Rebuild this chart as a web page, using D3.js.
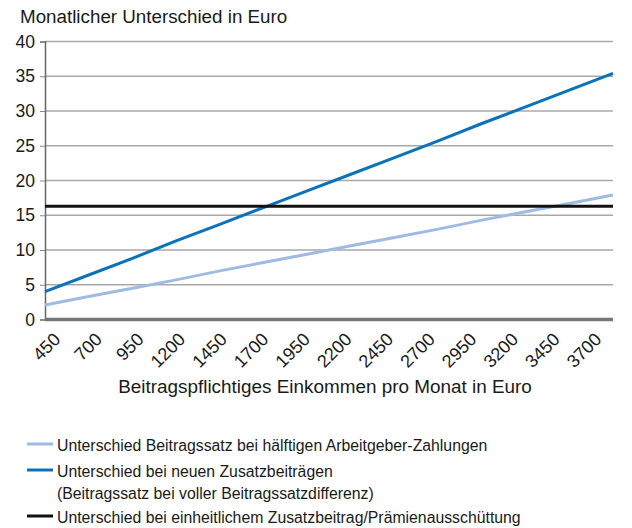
<!DOCTYPE html>
<html>
<head>
<meta charset="utf-8">
<script src="https://cdn.jsdelivr.net/npm/d3@7"></script>
<style>
  html, body { margin: 0; padding: 0; background: #fff; }
  svg { display: block; }
  text { font-family: "Liberation Sans", Arial, Helvetica, sans-serif; fill: #1a1a1a; }
</style>
</head>
<body>
<svg id="chart" width="632" height="528"></svg>
<script>
// Monthly income categories (Euro)
const incomes = [450, 700, 950, 1200, 1450, 1700, 1950, 2200, 2450, 2700, 2950, 3200, 3450, 3700];

// Monthly difference in Euro per series
const halfEmployerDiff = [2.1, 3.3, 4.5, 5.7, 7.0, 8.2, 9.4, 10.6, 11.8, 13.0, 14.3, 15.5, 16.7, 17.9];
const newSupplementDiff = [4.0, 6.4, 8.8, 11.3, 13.7, 16.1, 18.5, 20.9, 23.3, 25.7, 28.2, 30.6, 33.0, 35.4];
const uniformSupplementDiff = [16.3, 16.3, 16.3, 16.3, 16.3, 16.3, 16.3, 16.3, 16.3, 16.3, 16.3, 16.3, 16.3, 16.3];

const yTicks = [0, 5, 10, 15, 20, 25, 30, 35, 40];

const seriesLabels = [
  ["Unterschied Beitragssatz bei hälftigen Arbeitgeber-Zahlungen"],
  ["Unterschied bei neuen Zusatzbeiträgen", "(Beitragssatz bei voller Beitragssatzdifferenz)"],
  ["Unterschied bei einheitlichem Zusatzbeitrag/Prämienausschüttung"]
];

const series = [
  { values: halfEmployerDiff, color: "#9dbbe3", label: seriesLabels[0] },
  { values: newSupplementDiff, color: "#0a72ba", label: seriesLabels[1] },
  { values: uniformSupplementDiff, color: "#111111", label: seriesLabels[2] }
];

const svg = d3.select("#chart");
const plotLeft = 45, plotRight = 613, plotTop = 41.5, plotBottom = 319.5;

const x = d3.scalePoint().domain(incomes).range([plotLeft, plotRight]);
// category labels sit on their own evenly spaced positions
const xLabel = d3.scalePoint().domain(incomes).range([plotLeft + 16, plotRight - 11]);
const y = d3.scaleLinear().domain([0, 40]).range([plotBottom, plotTop]);

// horizontal grid
svg.append("g")
  .selectAll("line")
  .data(yTicks.filter(d => d > 0))
  .join("line")
  .attr("x1", plotLeft).attr("x2", plotRight)
  .attr("y1", d => y(d)).attr("y2", d => y(d))
  .attr("stroke", "#a8a8a8")
  .attr("stroke-width", 1.3);

// y axis
const yAxis = svg.append("g")
  .attr("transform", `translate(${plotLeft},0)`)
  .call(d3.axisLeft(y).tickValues(yTicks).tickSize(5).tickPadding(5));
yAxis.select(".domain").attr("stroke", "#666").attr("stroke-width", 1.5);
yAxis.selectAll(".tick line").attr("stroke", "#888");
yAxis.selectAll(".tick text")
  .attr("font-size", 17.5)
  .attr("font-family", "Liberation Sans, Arial, sans-serif")
  .attr("fill", "#1a1a1a");

// baseline (x axis line)
svg.append("line")
  .attr("x1", plotLeft).attr("x2", plotRight)
  .attr("y1", y(0)).attr("y2", y(0))
  .attr("stroke", "#777")
  .attr("stroke-width", 3.5);

// x tick labels, rotated
const xAxis = svg.append("g")
  .attr("transform", `translate(0,${y(0) + 21})`)
  .call(d3.axisBottom(xLabel).tickSize(0).tickPadding(0));
xAxis.select(".domain").remove();
xAxis.selectAll(".tick text")
  .attr("font-size", 18)
  .attr("font-family", "Liberation Sans, Arial, sans-serif")
  .attr("fill", "#1a1a1a")
  .attr("text-anchor", "end")
  .attr("dy", 0)
  .attr("y", 0)
  .attr("transform", "rotate(-45)");

// series lines
const line = d3.line()
  .x((d, i) => x(incomes[i]))
  .y(d => y(d));

svg.append("g")
  .selectAll("path")
  .data(series)
  .join("path")
  .attr("d", d => line(d.values))
  .attr("fill", "none")
  .attr("stroke", d => d.color)
  .attr("stroke-width", 3);

// titles
svg.append("text")
  .attr("x", 20).attr("y", 23)
  .attr("font-size", 18.8)
  .text("Monatlicher Unterschied in Euro");

svg.append("text")
  .attr("x", (plotLeft + plotRight) / 2 - 4).attr("y", 393)
  .attr("text-anchor", "middle")
  .attr("font-size", 18.9)
  .text("Beitragspflichtiges Einkommen pro Monat in Euro");

// legend
const legendRows = [451, 477, 523];
const legend = svg.append("g");
series.forEach((s, i) => {
  const by = legendRows[i];
  legend.append("line")
    .attr("x1", 27).attr("x2", 53)
    .attr("y1", by - 7).attr("y2", by - 7)
    .attr("stroke", s.color)
    .attr("stroke-width", 3);
  s.label.forEach((t, j) => {
    legend.append("text")
      .attr("x", 57).attr("y", by + j * 22)
      .attr("font-size", 15.8)
      .text(t);
  });
});
</script>
</body>
</html>
